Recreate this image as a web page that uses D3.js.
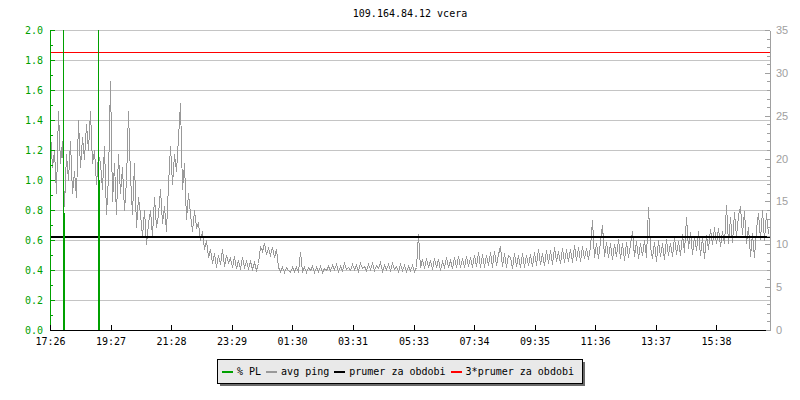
<!DOCTYPE html>
<html>
<head>
<meta charset="utf-8">
<script src="https://cdn.jsdelivr.net/npm/d3@7"></script>
<style>
  body { margin: 0; background: #fff; }
  svg { display: block; }
  text { font-family: "DejaVu Sans Mono", monospace; font-size: 10px; }
</style>
</head>
<body>
<div id="chart"></div>
<script>

/////////////////////////////////////////////////////////////////////////////
                    ///////    Data    ///////
/////////////////////////////////////////////////////////////////////////////

const title = "109.164.84.12 vcera";
const startTime = "17:26";
const spanMinutes = 1440;

const timeTicks = ["17:26", "19:27", "21:28", "23:29", "01:30", "03:31", "05:33", "07:34", "09:35", "11:36", "13:37", "15:38"];
const plTicks = [0, 0.2, 0.4, 0.6, 0.8, 1.0, 1.2, 1.4, 1.6, 1.8, 2.0];
const pingTicks = [0, 5, 10, 15, 20, 25, 30, 35];

// avg ping in ms, one sample every 4 minutes
const pingStepMinutes = 4;
const pingMs = [
  23.0, 19.0, 21.0, 16.0, 25.5, 19.5, 22.0, 14.5, 20.5, 17.5,
  22.0, 16.0, 18.5, 15.5, 24.5, 19.0, 22.5, 20.0, 24.0, 21.0,
  25.5, 19.5, 21.0, 17.0, 20.5, 19.5, 16.5, 21.5, 13.5, 18.0,
  29.0, 15.0, 19.5, 13.5, 20.5, 16.0, 19.0, 14.0, 17.5, 25.5,
  18.0, 13.5, 19.5, 12.0, 15.5, 13.5, 11.0, 14.0, 10.0, 12.5,
  14.0, 11.0, 15.5, 12.0, 13.5, 16.5, 12.5, 14.5, 11.5, 17.0,
  21.5, 17.0, 20.5, 18.5, 22.5, 26.5, 16.5, 19.5, 13.0, 16.0,
  13.5, 11.5, 14.0, 12.0, 12.5, 10.5, 11.5, 9.5, 10.5, 8.5,
  9.4, 7.8, 9.0, 7.4, 8.8, 7.7, 9.5, 7.5, 8.7, 7.9,
  8.4, 7.3, 8.6, 7.2, 8.2, 7.1, 8.5, 7.3, 8.0, 7.2,
  8.0, 7.1, 7.9, 7.0, 7.8, 9.8, 9.2, 10.1, 8.9, 9.6,
  8.8, 9.7, 8.5, 9.4, 7.3, 6.9, 7.4, 6.8, 7.3, 7.0,
  6.8, 7.4, 6.9, 7.3, 6.8, 9.1, 6.9, 7.4, 6.8, 7.3,
  7.0, 7.5, 6.8, 7.3, 6.9, 7.5, 6.8, 7.2, 7.0, 7.5,
  7.0, 7.6, 7.1, 7.7, 6.9, 7.5, 7.0, 7.8, 7.1, 7.4,
  7.0, 7.7, 7.1, 7.6, 6.9, 7.8, 7.2, 7.5, 7.0, 7.7,
  7.1, 7.8, 7.0, 7.6, 7.2, 7.9, 6.9, 7.6, 7.1, 7.7,
  7.0, 7.8, 7.1, 7.5, 6.9, 7.7, 7.0, 7.6, 6.9, 7.5,
  7.0, 7.6, 6.9, 7.4, 11.2, 7.3, 8.3, 7.2, 8.4, 7.4,
  8.2, 7.1, 8.4, 7.3, 8.3, 7.0, 8.1, 7.3, 8.5, 7.4,
  8.2, 7.2, 8.5, 7.4, 8.6, 7.3, 8.4, 7.3, 8.6, 7.5,
  8.5, 7.3, 8.8, 7.5, 9.1, 7.4, 8.9, 7.4, 8.8, 7.6,
  9.1, 7.4, 9.2, 7.6, 8.9, 9.8, 7.5, 9.0, 7.3, 8.8,
  8.5, 7.2, 9.0, 7.5, 8.8, 7.3, 9.0, 7.4, 8.7, 7.6,
  8.9, 7.5, 9.1, 7.6, 9.4, 7.7, 9.0, 7.6, 9.3, 7.8,
  9.3, 7.7, 9.7, 8.0, 9.2, 7.8, 9.6, 7.9, 9.4, 8.1,
  9.5, 7.9, 9.9, 8.2, 9.7, 8.0, 9.8, 8.4, 9.6, 8.3,
  9.8, 12.8, 8.5, 10.2, 8.4, 10.4, 12.2, 8.6, 10.3, 8.5,
  10.2, 8.3, 10.0, 8.6, 10.6, 8.4, 10.1, 8.2, 10.3, 8.5,
  10.0, 11.5, 8.6, 10.4, 8.4, 10.2, 8.7, 10.5, 8.5, 14.3,
  9.8, 8.4, 10.3, 8.1, 10.5, 8.6, 10.1, 8.3, 10.6, 8.8,
  10.2, 8.6, 10.9, 8.9, 10.4, 8.7, 11.2, 9.1, 13.2, 9.6,
  11.4, 8.9, 11.0, 9.3, 11.6, 8.8, 10.8, 8.4, 11.1, 9.4,
  11.8, 10.0, 12.0, 10.2, 11.9, 9.8, 11.6, 10.1, 14.6, 10.2,
  13.2, 10.3, 13.8, 11.0, 13.4, 14.5, 11.2, 13.9, 10.1, 12.0,
  8.6, 11.3, 8.5, 11.8, 13.6, 10.6, 14.0, 10.5, 13.7, 11.2
];

// packet loss events: time, peak (clipped) and value right after
const plTimes = ["17:52", "19:02"];
const plPeak = [100, 100];
const plAfter = [0.78, 1.0];

const avgPing = 10.8;
const tripleAvgPing = 32.4;

const legendLabels = ["% PL", "avg ping", "prumer za obdobi", "3*prumer za obdobi"];
const legendColors = ["#00a000", "#999999", "#000000", "#ff0000"];


/////////////////////////////////////////////////////////////////////////////
                    ///////    Chart    ///////
/////////////////////////////////////////////////////////////////////////////

const W = 800, H = 400;
const plotL = 50, plotR = 770, plotT = 30, plotB = 330;

const t0 = startTime.split(":").map(Number).reduce((h, m) => h * 60 + m);
const toMin = s => {
    const [h, m] = s.split(":").map(Number);
    return ((h * 60 + m) - t0 + 1440) % 1440;
};

const x = d3.scaleLinear().domain([0, spanMinutes]).range([plotL, plotR]);
const yPL = d3.scaleLinear().domain([0, 2]).range([plotB, plotT]);
const yPing = d3.scaleLinear().domain([0, 35]).range([plotB, plotT]);

const svg = d3.select("#chart").append("svg")
    .attr("width", W).attr("height", H)
    .attr("shape-rendering", "crispEdges");

svg.append("defs").append("clipPath").attr("id", "plot")
    .append("rect").attr("x", plotL).attr("y", plotT).attr("width", plotR - plotL).attr("height", plotB - plotT);

// title
svg.append("text")
    .attr("x", (plotL + plotR) / 2).attr("y", 17)
    .attr("text-anchor", "middle")
    .text(title);

// grid
svg.append("g").selectAll("line")
    .data(plTicks.filter(d => d > 0))
    .join("line")
    .attr("x1", plotL).attr("x2", plotR)
    .attr("y1", d => Math.round(yPL(d)) + 0.5).attr("y2", d => Math.round(yPL(d)) + 0.5)
    .attr("stroke", "#c4c4c4");

const plot = svg.append("g").attr("clip-path", "url(#plot)");

// avg ping
plot.append("path")
    .datum(pingMs)
    .attr("fill", "none")
    .attr("stroke", "#999999")
    .attr("stroke-width", 1)
    .attr("d", d3.line()
        .x((d, i) => Math.round(x(i * pingStepMinutes)) + 0.5)
        .y(d => Math.round(yPing(d)) + 0.5));

// average lines
plot.append("line")
    .attr("x1", plotL).attr("x2", plotR)
    .attr("y1", yPing(avgPing)).attr("y2", yPing(avgPing))
    .attr("stroke", "#000").attr("stroke-width", 2);

plot.append("line")
    .attr("x1", plotL).attr("x2", plotR)
    .attr("y1", Math.round(yPing(tripleAvgPing)) + 0.5).attr("y2", Math.round(yPing(tripleAvgPing)) + 0.5)
    .attr("stroke", "#ff0000").attr("stroke-width", 1);

// packet loss
const pl = plot.append("g").selectAll("g")
    .data(plTimes.map((t, i) => ({ t: toMin(t), peak: plPeak[i], after: plAfter[i] })))
    .join("g");

pl.append("line")
    .attr("x1", d => Math.round(x(d.t)) + 0.5).attr("x2", d => Math.round(x(d.t)) + 0.5)
    .attr("y1", yPL(0)).attr("y2", d => yPL(Math.min(d.peak, 2.2)))
    .attr("stroke", "#00a000");

pl.append("line")
    .attr("x1", d => Math.round(x(d.t)) + 1).attr("x2", d => Math.round(x(d.t)) + 1)
    .attr("y1", yPL(0)).attr("y2", d => yPL(d.after))
    .attr("stroke", "#00a000").attr("stroke-width", 2);

// left axis (% PL)
const minorPL = d3.range(0, 21).map(d => d / 10);
const leftMinor = svg.append("g").attr("transform", `translate(${plotL},0)`)
    .call(d3.axisLeft(yPL).tickValues(minorPL).tickSizeInner(-3).tickSizeOuter(0).tickFormat(""));
const leftAxis = svg.append("g").attr("transform", `translate(${plotL},0)`)
    .call(d3.axisLeft(yPL).tickValues(plTicks).tickSizeInner(-5).tickSizeOuter(0).tickPadding(7).tickFormat(d3.format(".1f")));
[leftMinor, leftAxis].forEach(g => {
    g.select(".domain").attr("stroke", "#00a000");
    g.selectAll(".tick line").attr("stroke", "#00a000");
});
leftAxis.selectAll("text").attr("fill", "#00a000")
    .style("font-family", "'DejaVu Sans Mono', monospace").style("font-size", "10px");

// right axis (ping ms)
const minorPing = d3.range(0, 36);
const rightMinor = svg.append("g").attr("transform", `translate(${plotR},0)`)
    .call(d3.axisRight(yPing).tickValues(minorPing).tickSizeInner(-3).tickSizeOuter(0).tickFormat(""));
const rightAxis = svg.append("g").attr("transform", `translate(${plotR},0)`)
    .call(d3.axisRight(yPing).tickValues(pingTicks).tickSizeInner(-5).tickSizeOuter(0).tickPadding(6));
[rightMinor, rightAxis].forEach(g => {
    g.select(".domain").attr("stroke", "#a0a0a0");
    g.selectAll(".tick line").attr("stroke", "#a0a0a0");
});
rightAxis.selectAll("text").attr("fill", "#a0a0a0")
    .style("font-family", "'Liberation Sans', sans-serif").style("font-size", "11px");

// time axis
const bottomAxis = svg.append("g").attr("transform", `translate(0,${plotB})`)
    .call(d3.axisBottom(x).tickValues(timeTicks.map(toMin)).tickSizeInner(-5).tickSizeOuter(0).tickPadding(8)
        .tickFormat((d, i) => timeTicks[i]));
bottomAxis.select(".domain").attr("d", `M${plotL},0.5H${plotR - 4}`).attr("stroke", "#000");
bottomAxis.selectAll(".tick line").attr("stroke", "#000");
bottomAxis.selectAll("text").attr("fill", "#000")
    .style("font-family", "'DejaVu Sans Mono', monospace").style("font-size", "10px");

// legend
const lgX = 217, lgY = 359, lgW = 365, lgH = 24;
const legend = svg.append("g");
legend.append("rect").attr("x", lgX + 3).attr("y", lgY + 3).attr("width", lgW).attr("height", lgH).attr("fill", "#6a6a6a");
legend.append("rect").attr("x", lgX + 0.5).attr("y", lgY + 0.5).attr("width", lgW).attr("height", lgH)
    .attr("fill", "#e9e9e9").attr("stroke", "#000");

let cx = lgX + 5;
legendLabels.forEach((label, i) => {
    legend.append("line")
        .attr("x1", cx).attr("x2", cx + 11)
        .attr("y1", lgY + 13).attr("y2", lgY + 13)
        .attr("stroke", legendColors[i]).attr("stroke-width", 2);
    const t = legend.append("text")
        .attr("x", cx + 15).attr("y", lgY + 16)
        .text(label);
    cx += 15 + t.node().getComputedTextLength() + 5;
});

</script>
</body>
</html>
